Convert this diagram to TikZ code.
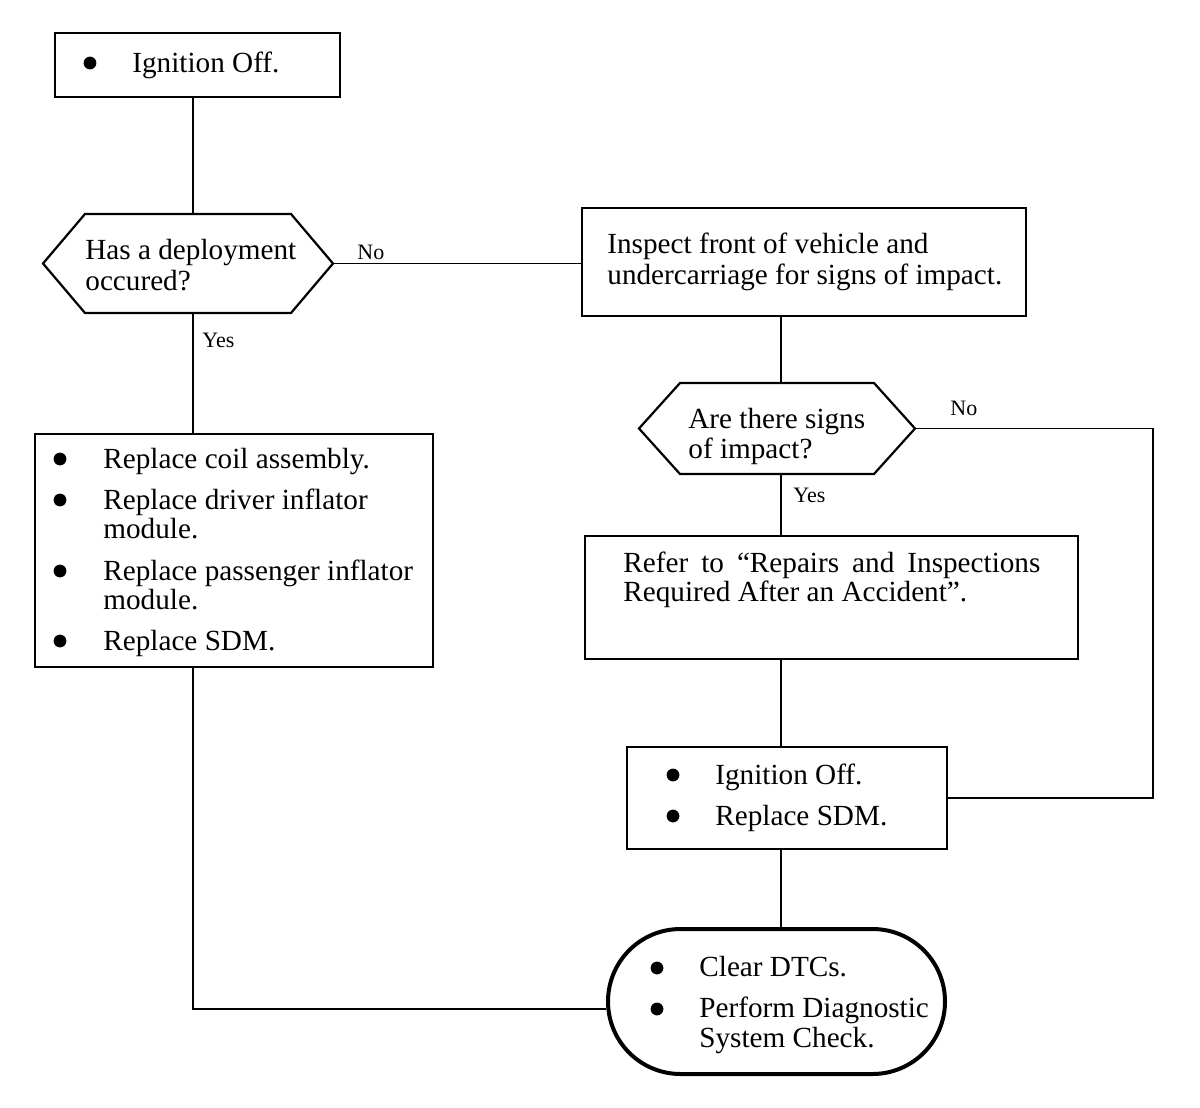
\documentclass[tikz,border=0pt]{standalone}
\usepackage{fontspec}
\setmainfont{Liberation Serif}
\usetikzlibrary{shapes.misc}
\begin{document}
\begin{tikzpicture}[x=0.5pt,y=-0.5pt,
  boxline/.style={draw=black,line width=1.1pt},
  conn/.style={draw=black,line width=0.9pt},
  hexbb/.style={rectangle,inner sep=0pt,outer sep=0pt},
  txt/.style={anchor=base west,inner sep=0pt,font=\fontsize{14.6}{15}\selectfont},
  lbl/.style={anchor=base west,inner sep=0pt,font=\fontsize{11}{12}\selectfont},
  dot/.style={circle,fill=black,inner sep=0pt,minimum size=6.4pt}]
\useasboundingbox (0,0) rectangle (1200,1108);
\fill[white] (0,0) rectangle (1200,1108);
\coordinate (xL) at (193,0);
\coordinate (xR) at (781,0);
\coordinate (xF) at (1153,0);
% boxes
\node[boxline,rectangle,minimum width=142.5pt,minimum height=32pt,inner sep=0pt] (b1) at (197.5,65) {};
\node[hexbb,minimum width=145pt,minimum height=49.5pt] (h1) at (188,263.5) {};
\draw[boxline] (h1.west) -- ([xshift=21pt]h1.north west) -- ([xshift=-21pt]h1.north east) -- (h1.east) -- ([xshift=-21pt]h1.south east) -- ([xshift=21pt]h1.south west) -- cycle;
\node[boxline,rectangle,minimum width=222pt,minimum height=54pt,inner sep=0pt] (b2) at (804,262) {};
\node[hexbb,minimum width=138pt,minimum height=45.5pt] (h2) at (777,428.5) {};
\draw[boxline] (h2.west) -- ([xshift=20.5pt]h2.north west) -- ([xshift=-20.5pt]h2.north east) -- (h2.east) -- ([xshift=-20.5pt]h2.south east) -- ([xshift=20.5pt]h2.south west) -- cycle;
\node[boxline,rectangle,minimum width=246.5pt,minimum height=61.5pt,inner sep=0pt] (b3) at (831.5,597.5) {};
\node[boxline,rectangle,minimum width=160pt,minimum height=51pt,inner sep=0pt] (b4) at (787,798) {};
\node[boxline,rectangle,minimum width=199pt,minimum height=116.5pt,inner sep=0pt] (b5) at (234,550.5) {};
\node[draw=black,line width=2pt,rounded rectangle,minimum width=168.5pt,minimum height=72.5pt,inner sep=0pt] (t) at (776.5,1001.5) {};
\coordinate (tj) at ([yshift=-3.75pt]t.west);
% connectors
\draw[conn] (b1.south -| xL) -- (h1.north -| xL);
\draw[conn] (h1.east) -- (h1.east -| b2.west);
\draw[conn] (h1.south -| xL) -- (b5.north -| xL);
\draw[conn] (b2.south -| xR) -- (h2.north -| xR);
\draw[conn] (h2.south -| xR) -- (b3.north -| xR);
\draw[conn] (b3.south -| xR) -- (b4.north -| xR);
\draw[conn] (b4.south -| xR) -- (t.north -| xR);
\draw[conn] (h2.east) -- (h2.east -| xF) -- (b4.east -| xF) -- (b4.east);
\draw[conn] (b5.south -| xL) -- (xL |- tj) -- (tj);
% labels
\node[lbl] (lno1) at (357,259) {No};
\node[lbl] (lyes1) at (202,347) {Yes};
\node[lbl] (lno2) at (950,415) {No};
\node[lbl] (lyes2) at (793,502) {Yes};
% texts b1
\node[dot] (d1) at (90,63) {};
\node[txt] (t1) at (132,72) {Ignition Off.};
% h1
\node[txt] (th1a) at (85,259) {Has a deployment};
\node[txt] (th1b) at (85,290) {occured?};
% b2
\node[txt] (tb2a) at (607,253) {Inspect front of vehicle and};
\node[txt] (tb2b) at (607,284) {undercarriage for signs of impact.};
% h2
\node[txt] (th2a) at (688,428) {Are there signs};
\node[txt] (th2b) at (688,458) {of impact?};
% b3
\node[txt] (tb3a) at (623,572) {\makebox[208.5pt][s]{Refer to “Repairs and Inspections}};
\node[txt] (tb3b) at (623,601) {Required After an Accident”.};
% b4
\node[dot] (d4a) at (673,775) {};
\node[txt] (tb4a) at (715,784) {Ignition Off.};
\node[dot] (d4b) at (673,816) {};
\node[txt] (tb4b) at (715,825) {Replace SDM.};
% b5
\node[dot] (d5a) at (60,459) {};
\node[txt] (tb5a) at (103,468) {Replace coil assembly.};
\node[dot] (d5b) at (60,500) {};
\node[txt] (tb5b) at (103,509) {Replace driver inflator};
\node[txt] (tb5c) at (103,538) {module.};
\node[dot] (d5c) at (60,571) {};
\node[txt] (tb5d) at (103,580) {Replace passenger inflator};
\node[txt] (tb5e) at (103,609) {module.};
\node[dot] (d5d) at (60,641) {};
\node[txt] (tb5f) at (103,650) {Replace SDM.};
% terminal
\node[dot] (dta) at (657,968) {};
\node[txt] (tta) at (699,976) {Clear DTCs.};
\node[dot] (dtb) at (657,1009) {};
\node[txt] (ttb) at (699,1017) {Perform Diagnostic};
\node[txt] (ttc) at (699,1047) {System Check.};
\end{tikzpicture}
\end{document}
